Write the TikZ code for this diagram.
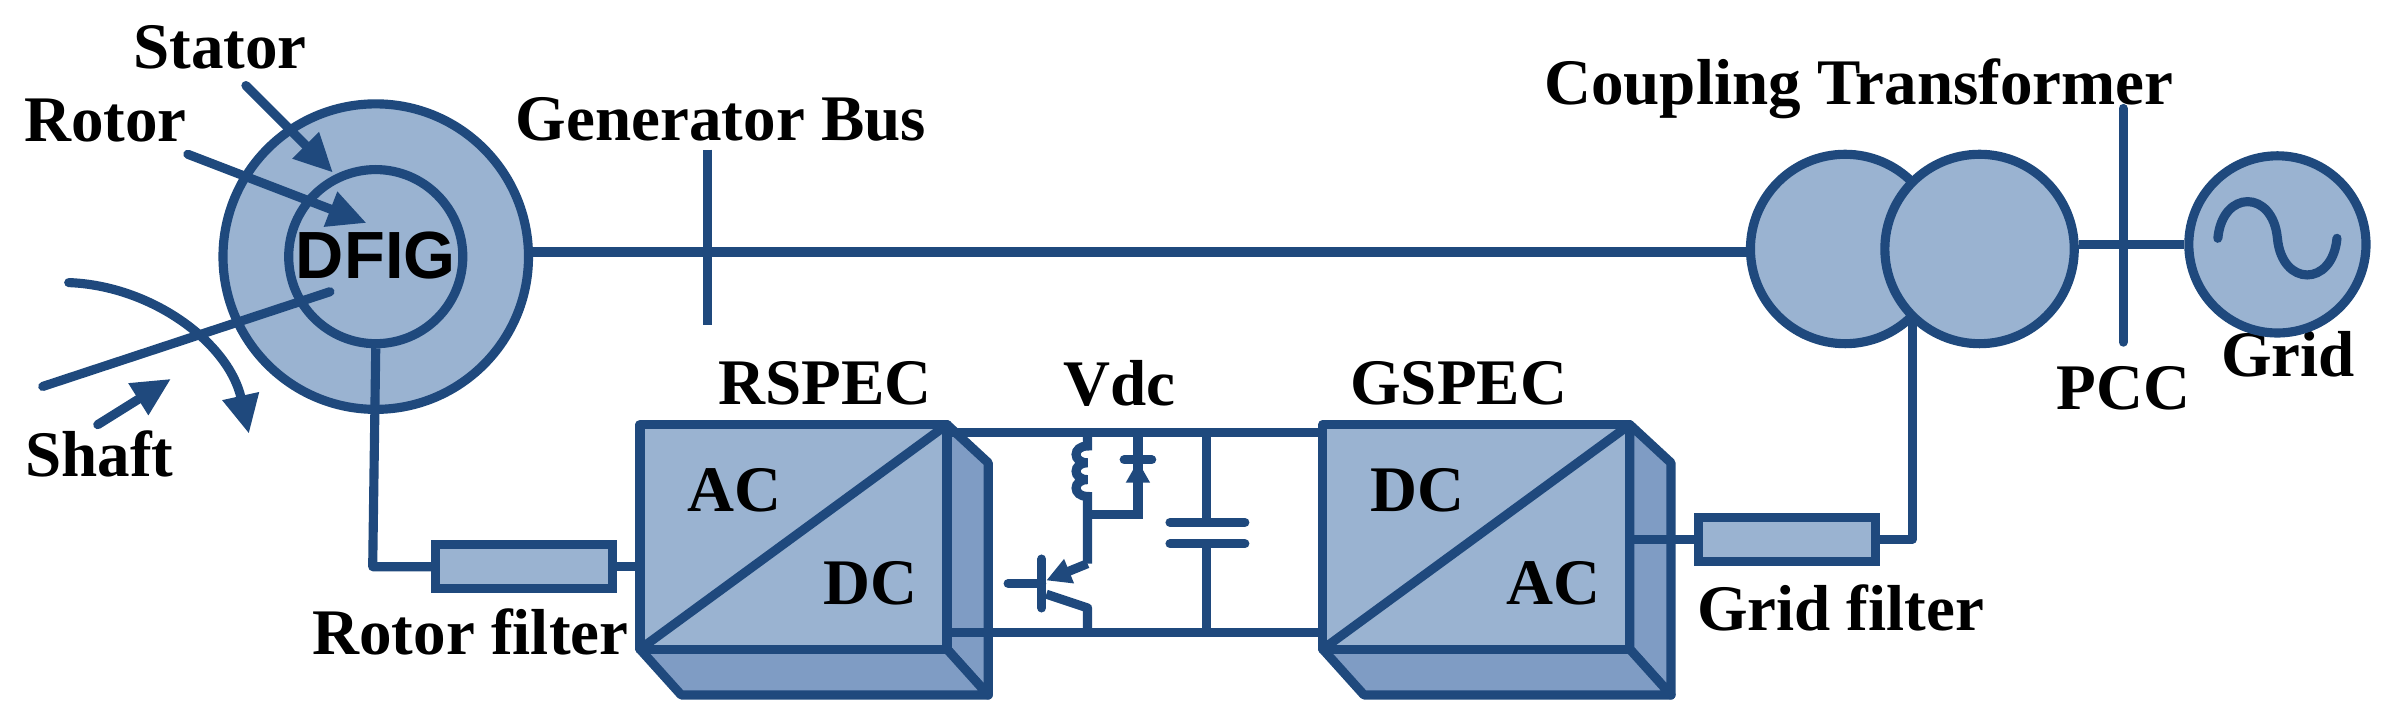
\documentclass[tikz,border=0pt]{standalone}
\usepackage{fontspec}
\setmainfont{Liberation Serif}
\newfontfamily\sansf{Liberation Sans}
\usetikzlibrary{arrows.meta}
\definecolor{ln}{HTML}{1F497D}
\definecolor{fl}{HTML}{9AB3D1}
\definecolor{sd}{HTML}{7F9CC4}
\newcommand{\convbox}[3]{%
  \filldraw[fill=sd,line join=round] (#1+201,278) -- (#1+228,303) -- (#1+228,455) -- (#1+201,425) -- cycle;
  \filldraw[fill=sd,line join=round] (#1,425) -- (#1+201,425) -- (#1+228,455) -- (#1+27,455) -- cycle;
  \filldraw[fill=fl,line join=round] (#1,278) rectangle (#1+201,425);
  \draw (#1,425) -- (#1+201,278);
  \node[lbl] at (#1+62,321) {#2};
  \node[lbl] at (#1+151,382) {#3};
}
\begin{document}
\begin{tikzpicture}[x=0.015274cm,y=-0.015274cm,line width=2.6pt,color=ln,
  lbl/.style={font=\fontsize{18.5}{20}\selectfont\bfseries,text=black,inner sep=0},
  circ/.style={circle,draw=ln,fill=fl,inner sep=0},
  filt/.style={rectangle,draw=ln,fill=fl,inner sep=0,minimum width=1.77cm,minimum height=0.44cm},
  arr/.style={-{Triangle[length=11pt,width=10pt]},line cap=round}]
\useasboundingbox (0,0) rectangle (1568,475);
% DFIG
\node[circ,minimum size=3.055cm] (stator) at (246,168) {};
\node[circ,minimum size=1.741cm] (rotor) at (246,168) {};
\node[font=\sansf\fontsize{19}{20}\selectfont\bfseries,text=black,inner sep=0] (dfig) at (246,167) {DFIG};
% labels
\node[lbl] (lstator) at (144,31) {Stator};
\node[lbl] (lrotor) at (69,79) {Rotor};
\node[lbl] (lshaft) at (65,297) {Shaft};
\node[lbl] (lgbus) at (472,78) {Generator Bus};
\node[lbl] (lct) at (1217,58) {Coupling Transformer};
\node[lbl] (lpcc) at (1390,254) {PCC};
\node[lbl] (lgrid) at (1498,232) {Grid};
\node[lbl] (lrspec) at (540,251) {RSPEC};
\node[lbl] (lvdc) at (733,251) {Vdc};
\node[lbl] (lgspec) at (955,251) {GSPEC};
\node[lbl] (lrf) at (308,414) {Rotor filter};
\node[lbl] (lgf) at (1205,398) {Grid filter};
% arrows
\coordinate (sa1) at (161,56); \coordinate (sa2) at (218,113);
\coordinate (ra1) at (123,101); \coordinate (ra2) at (240,146);
\coordinate (sh1) at (28,253); \coordinate (sh2) at (216,191);
\coordinate (sm1) at (64,278); \coordinate (sm2) at (112,248);
\coordinate (cu1) at (45,185); \coordinate (cu2) at (163,284);
\draw[arr] (sa1) -- (sa2);
\draw[arr] (ra1) -- (ra2);
\draw[line cap=round] (sh1) -- (sh2);
\draw[arr] (sm1) -- (sm2);
\draw[arr] (cu1) .. controls (100,187) and (150,225) .. (cu2);
% transformer and grid
\node[circ,minimum size=1.894cm] (tl) at (1208,163) {};
\node[circ,minimum size=1.894cm] (tr) at (1296,163) {};
\node[circ,minimum size=1.772cm] (grid) at (1491,160) {};
\draw[line cap=round] (1452,156) .. controls (1455,124) and (1488,124) .. (1491,156) .. controls (1494,188) and (1527,188) .. (1530,156);
\coordinate (pcct) at (1390,71); \coordinate (pccb) at (1390,224);
\draw[line cap=round] (pcct) -- (pccb);
\draw (tr.east |- 0,160) -- (grid.west);
\draw (stator.east |- 0,165) -- (tl.west |- 0,165);
% generator bus
\coordinate (gbt) at (463,98); \coordinate (gbb) at (463,213);
\draw (gbt) -- (gbb);
% converters
\convbox{419}{AC}{DC}
\convbox{866}{DC}{AC}
\coordinate (rsin) at (419,371);
\coordinate (gsout) at (1067,353);
% rotor filter
\node[filt] (rf) at (343,371) {};
\draw[line join=round] (rotor.south) -- (244,371) -- (rf.west);
\draw (rf.east) -- (rsin);
% grid filter
\node[filt] (gf) at (1170,353) {};
\coordinate (tx) at (1252,207);
\draw[line join=round] (tx) -- (1252,353) -- (gf.east);
\draw (gf.west) -- (gsout);
% dc link
\draw (620,283) -- (866,283);
\draw (620,414) -- (866,414);
% inductor
\draw (712,283) -- (712,292) .. controls (702,292) and (702,303) .. (712,303)
   .. controls (702,303) and (702,314) .. (712,314)
   .. controls (702,314) and (702,325) .. (712,325) -- (712,369);
% diode
\draw (745,283) -- (745,337) -- (712,337);
\fill (737,316) -- (753,316) -- (745,302) -- cycle;
\draw[line cap=round] (736,301) -- (754,301);
% transistor
\draw[-{Triangle[length=7pt,width=7pt]}] (712,369) -- (685,380);
\draw[line cap=round] (682,366) -- (682,398);
\draw[line cap=round] (660,382) -- (682,382);
\draw[line join=round] (685,389) -- (712,398) -- (712,414);
% capacitor
\draw (790,283) -- (790,342);
\draw[line cap=round] (766,342) -- (815,342);
\draw[line cap=round] (766,356) -- (815,356);
\draw (790,356) -- (790,414);
\end{tikzpicture}
\end{document}
